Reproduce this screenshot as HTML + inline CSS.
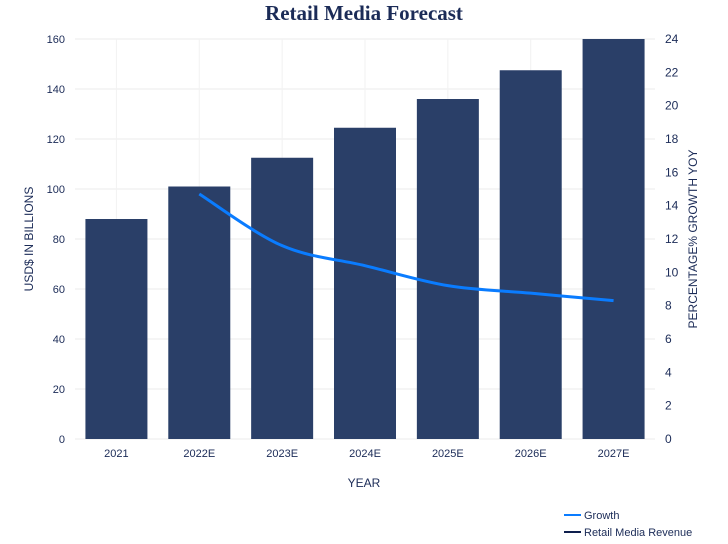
<!DOCTYPE html>
<html><head><meta charset="utf-8">
<style>
body{margin:0;background:#fff;}
svg{display:block;font-family:"Liberation Sans",sans-serif;}
</style></head>
<body>
<svg id="chart" width="728" height="544">
<text x="364" y="20" text-anchor="middle" font-family="Liberation Serif" font-weight="bold" font-size="21" fill="#1b2b57">Retail Media Forecast</text>
<g id="grid"></g><g id="bars"></g><g id="line"></g><g id="axes"></g>
<text transform="translate(33,239) rotate(-90)" text-anchor="middle" font-size="12" fill="#1b2b57">USD$ IN BILLIONS</text>
<text transform="translate(697,239) rotate(-90)" text-anchor="middle" font-size="12" fill="#1b2b57">PERCENTAGE% GROWTH YOY</text>
<text x="364" y="487" text-anchor="middle" font-size="12" fill="#1b2b57">YEAR</text>
<g><line x1="564" y1="515" x2="581" y2="515" stroke="#0a7cff" stroke-width="2"/><text x="584" y="519" font-size="11" fill="#1b2b57">Growth</text></g>
<g><line x1="564" y1="532" x2="581" y2="532" stroke="#0e1f4d" stroke-width="2"/><text x="584" y="536" font-size="11" fill="#1b2b57">Retail Media Revenue</text></g>
</svg>
<script>
const categories=["2021","2022E","2023E","2024E","2025E","2026E","2027E"];
const revenue=[88,101,112.5,124.5,136,147.5,160];
const growth=[null,14.7,11.6,10.4,9.2,8.75,8.3];
const yTicks=[0,20,40,60,80,100,120,140,160];
const y2Ticks=[0,2,4,6,8,10,12,14,16,18,20,22,24];
const NS="http://www.w3.org/2000/svg";
const L=75,R=655,T=39,B=439;
const step=(R-L)/categories.length;
const xc=i=>L+step*(i+0.5);
const y=v=>B-(v/160)*(B-T);
const y2=v=>B-(v/24)*(B-T);
function mk(tag,attrs,parent,txt){const e=document.createElementNS(NS,tag);for(const k in attrs)e.setAttribute(k,attrs[k]);if(txt!==undefined)e.textContent=txt;document.getElementById(parent).appendChild(e);return e;}
yTicks.forEach(t=>{
 const g=mk('line',{x1:L,x2:R,y1:y(t),y2:y(t),stroke:'#ebebeb','stroke-width':1},'grid');
 
 
 const tx=mk('text',{x:L-10,y:y(t)+4,'text-anchor':'end','font-size':11,fill:'#1b2b57'},'axes',t);
 
 
});
categories.forEach((c,i)=>{
 const gl=mk('line',{x1:xc(i),x2:xc(i),y1:T,y2:B,stroke:'#f2f2f2','stroke-width':1},'grid');
 
 
 const b=mk('rect',{x:xc(i)-31,y:y(revenue[i]),width:62,height:B-y(revenue[i]),fill:'#2a3f68'},'bars');
 
 
 const tx=mk('text',{x:xc(i),y:457,'text-anchor':'middle','font-size':11,fill:'#1b2b57'},'axes',c);
 
 
});
y2Ticks.forEach(t=>{
 const tx=mk('text',{x:R+10,y:y2(t)+4,'text-anchor':'start','font-size':12,fill:'#1b2b57'},'axes',t);
 
 
});
const pts=[];growth.forEach((g,i)=>{if(g!==null)pts.push([xc(i),y2(g)]);});
let d='M'+pts[0][0]+','+pts[0][1];
for(let i=0;i<pts.length-1;i++){
 const p0=pts[i-1]||pts[i],p1=pts[i],p2=pts[i+1],p3=pts[i+2]||p2;
 const c1=[p1[0]+(p2[0]-p0[0])/6,p1[1]+(p2[1]-p0[1])/6],c2=[p2[0]-(p3[0]-p1[0])/6,p2[1]-(p3[1]-p1[1])/6];
 d+=` C${c1[0]},${c1[1]} ${c2[0]},${c2[1]} ${p2[0]},${p2[1]}`;
}
const ln=mk('path',{d:d,fill:'none',stroke:'#0a7cff','stroke-width':3},'line');


</script>
</body></html>
